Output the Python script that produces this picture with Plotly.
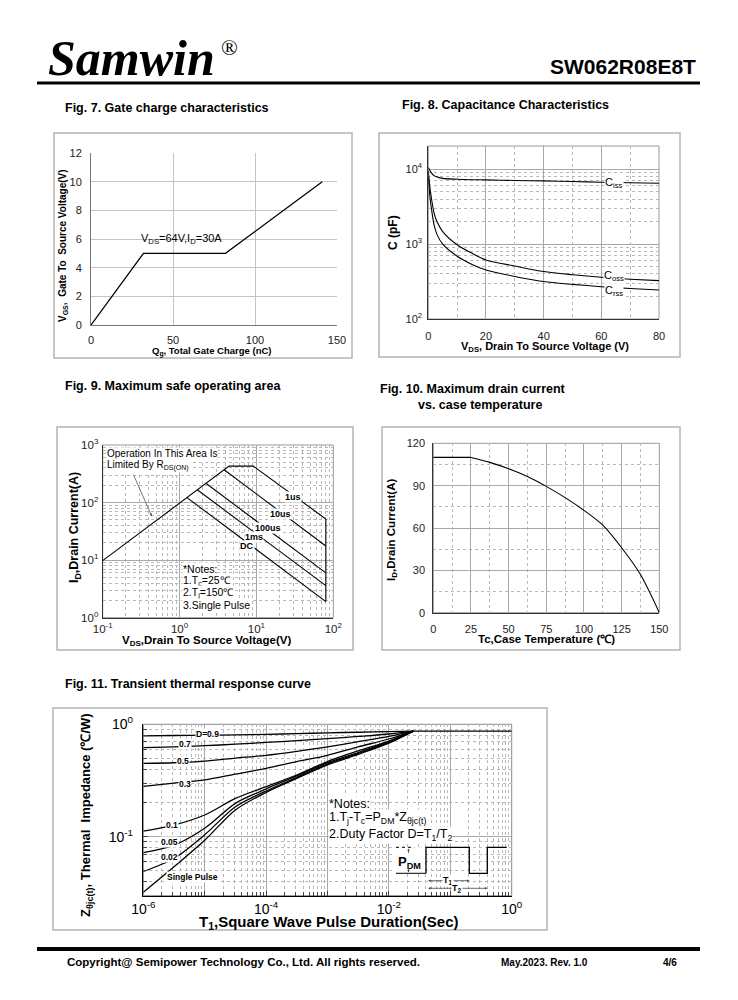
import plotly.graph_objects as go

W, H = 738, 1000
FONT = "Liberation Sans, Arial, sans-serif"


def px(x):
    return x / W


def py(y):
    return 1 - y / H


# ---------------- data ----------------
# Fig. 7 gate charge
gate_charge_nc = [0, 32, 82, 141]
gate_voltage_v = [0, 5, 5, 10]

# Fig. 8 capacitance
cap_vds_v = [0, 0.5, 1, 2, 3, 5, 10, 15, 20, 30, 40, 50, 60, 70, 80]
ciss_pf = [10500, 9700, 9000, 8200, 7900, 7550, 7350, 7250, 7200, 7080, 6980, 6850, 6700, 6600, 6500]
coss_pf = [9500, 6000, 4300, 2600, 2000, 1470, 980, 760, 615, 510, 430, 390, 361, 340, 325]
crss_pf = [8000, 4500, 3150, 1800, 1350, 1000, 690, 540, 452, 370, 316, 290, 270, 255, 244]

# Fig. 9 safe operating area
soa_env_v = [0.1, 4.4, 9.1, 80, 80]
soa_env_a = [9.8, 430, 430, 51.8, 1.9]
soa_10us_v = [3.8, 80]
soa_10us_a = [372, 17.6]
soa_100us_v = [2.2, 80]
soa_100us_a = [216, 6.0]
soa_1ms_v = [1.7, 80]
soa_1ms_a = [167, 3.6]
soa_dc_v = [1.25, 80]
soa_dc_a = [122, 1.9]

# Fig. 10 drain current vs case temperature
tc_flat_c = [0, 25]
id_flat_a = [110, 110]
tc_curve_c = [25, 37.5, 50, 62.5, 75, 87.5, 100, 112.5, 125, 137.5, 150]
id_curve_a = [110, 106.5, 102, 96.5, 89.5, 81.5, 72.5, 62, 46, 27, 0]

# Fig. 11 transient thermal impedance
zth_t_s = [1e-6, 3.16e-6, 1e-5, 3.16e-5, 1e-4, 3.16e-4, 1e-3, 3.16e-3, 1e-2, 2.5e-2]
zth_d09 = [0.79, 0.795, 0.80, 0.805, 0.815, 0.825, 0.84, 0.85, 0.86, 0.87]
zth_d07 = [0.62, 0.63, 0.645, 0.665, 0.69, 0.715, 0.745, 0.78, 0.82, 0.87]
zth_d05 = [0.45, 0.455, 0.47, 0.50, 0.53, 0.575, 0.63, 0.70, 0.78, 0.87]
zth_d03 = [0.28, 0.30, 0.32, 0.36, 0.405, 0.465, 0.53, 0.63, 0.74, 0.87]
zth_d01 = [0.112, 0.127, 0.156, 0.219, 0.279, 0.354, 0.466, 0.58, 0.71, 0.87]
zth_d005 = [0.072, 0.084, 0.119, 0.198, 0.266, 0.347, 0.456, 0.56, 0.70, 0.87]
zth_d002 = [0.049, 0.064, 0.104, 0.185, 0.255, 0.337, 0.444, 0.55, 0.69, 0.87]
zth_single = [0.032, 0.054, 0.093, 0.173, 0.248, 0.330, 0.435, 0.54, 0.68, 0.87]
zth_flat_t = [2.5e-2, 1]
zth_flat_z = [0.87, 0.87]

# ---------------- figure ----------------
fig = go.Figure()
LW = 1.3


def line(x, y, xa, ya, shape="linear", width=LW):
    fig.add_trace(go.Scatter(x=x, y=y, xaxis=xa, yaxis=ya, mode="lines",
                             line=dict(color="black", width=width, shape=shape, smoothing=0.8),
                             showlegend=False, hoverinfo="skip"))


# Fig 7
line(gate_charge_nc, gate_voltage_v, "x", "y")
# Fig 8
for c in (ciss_pf, coss_pf, crss_pf):
    line(cap_vds_v, c, "x2", "y2", shape="spline", width=1.1)
# Fig 9
line(soa_env_v, soa_env_a, "x3", "y3", width=1.1)
for v, a in ((soa_10us_v, soa_10us_a), (soa_100us_v, soa_100us_a),
             (soa_1ms_v, soa_1ms_a), (soa_dc_v, soa_dc_a)):
    line(v, a, "x3", "y3", width=1.1)
# Fig 10
line(tc_flat_c, id_flat_a, "x4", "y4", width=1.1)
line(tc_curve_c, id_curve_a, "x4", "y4", shape="spline", width=1.1)
# Fig 11
for z in (zth_d09, zth_d07, zth_d05, zth_d03, zth_d01, zth_d005, zth_d002, zth_single):
    line(zth_t_s, z, "x5", "y5", shape="spline", width=1.3)
line(zth_flat_t, zth_flat_z, "x5", "y5", width=1.3)

tickf = dict(family=FONT, size=11, color="#222")
MAJ = "#a8a8a8"
MIN = "#b8b8b8"


def lin_axis(dom, rng, dtick, anchor, minor=None, standoff=4, linecolor="#555", grid="#c4c4c4"):
    d = dict(domain=dom, range=rng, dtick=dtick, tick0=0, anchor=anchor, showgrid=True,
             gridcolor=grid, gridwidth=1, zeroline=False, showline=True, linecolor=linecolor,
             linewidth=1, ticks="", tickfont=tickf, ticklabelstandoff=standoff, fixedrange=True,
             automargin=False)
    if minor is not None:
        d["minor"] = dict(dtick=minor, showgrid=True, griddash="dot", gridcolor=MIN, gridwidth=1)
    return d


def sup(e):
    return "10<sup>%s</sup>" % e


def log_axis(dom, rng, tickvals, ticktext, minorvals, anchor, standoff=2, font=None, linecolor="#333", lw=1):
    return dict(domain=dom, type="log", range=rng, tickvals=tickvals, ticktext=ticktext,
                anchor=anchor, showgrid=True, gridcolor=MAJ, gridwidth=1, zeroline=False,
                showline=True, linecolor=linecolor, linewidth=lw, ticks="",
                tickfont=font or tickf, ticklabelstandoff=standoff, fixedrange=True, automargin=False,
                minor=dict(tickvals=minorvals, showgrid=True, griddash="dot", gridcolor=MIN, gridwidth=1))


def minors(decades):
    return [m * 10 ** d for d in decades for m in range(2, 10)]


layout = dict(
    template="none",
    width=W, height=H, margin=dict(l=0, r=0, t=0, b=0, pad=0, autoexpand=False), paper_bgcolor="white",
    plot_bgcolor="rgba(0,0,0,0)", font=dict(family=FONT, color="black"), showlegend=False,
)
f12 = dict(family=FONT, size=11.5, color="#222")
layout["xaxis"] = lin_axis([px(91), px(337)], [0, 150], 50, "y", standoff=5, linecolor="#777")
layout["yaxis"] = lin_axis([py(325), py(153)], [0, 12], 2, "x", standoff=6, linecolor="#777")
layout["xaxis2"] = lin_axis([px(428.3), px(659)], [0, 80], 20, "y2", minor=10, standoff=7, linecolor="#333", grid=MAJ)
layout["yaxis2"] = log_axis([py(319), py(146)], [2, 4.31], [100, 1000, 10000], [sup(2), sup(3), sup(4)],
                            minors([2, 3]) + [20000], "x2", standoff=3)
layout["xaxis3"] = log_axis([px(102.7), px(333.3)], [-1, 2], [0.1, 1, 10, 100],
                            [sup(-1), sup(0), sup(1), sup(2)], minors([-1, 0, 1]), "y3", standoff=0, font=f12)
layout["yaxis3"] = log_axis([py(617.7), py(445)], [0, 3], [1, 10, 100, 1000],
                            [sup(0), sup(1), sup(2), sup(3)], minors([0, 1, 2]), "x3", standoff=1, font=f12)
layout["xaxis4"] = lin_axis([px(433.3), px(659.3)], [0, 150], 25, "y4", minor=12.5, standoff=6, linecolor="#333", grid=MAJ)
layout["yaxis4"] = lin_axis([py(612.7), py(443.3)], [0, 120], 30, "x4", minor=15, standoff=5, linecolor="#333", grid=MAJ)
bigf = dict(family=FONT, size=14, color="black")
layout["xaxis5"] = log_axis([px(143.3), px(511.7)], [-6, 0], [1e-6, 1e-5, 1e-4, 1e-3, 1e-2, 1e-1, 1],
                            [sup(-6), "", sup(-4), "", sup(-2), "", sup(0)], minors(range(-6, 0)), "y5",
                            standoff=0, font=bigf, linecolor="black", lw=1.5)
layout["yaxis5"] = log_axis([py(895.7), py(724.3)], [-1.525, 0], [0.1, 1], [sup(-1), sup(0)],
                            [0.04, 0.05, 0.06, 0.07, 0.08, 0.09] + minors([-1]), "x5",
                            standoff=6, font=bigf, linecolor="black", lw=1.5)
layout["xaxis5"]["ticks"] = "inside"
layout["xaxis5"]["ticklen"] = 5
layout["xaxis5"]["minor"].update(ticks="inside", ticklen=4)
layout["yaxis5"]["ticks"] = "inside"
layout["yaxis5"]["ticklen"] = 5
layout["yaxis5"]["minor"].update(ticks="inside", ticklen=4)

fig.update_layout(**layout)

shapes = []
# frames around each figure
for (x0, y0, x1, y1) in [(54, 133, 352, 358), (379, 133, 680, 357), (57, 427, 353, 650),
                         (382, 427, 680, 650), (53, 708, 547, 930)]:
    shapes.append(dict(type="rect", xref="paper", yref="paper", x0=px(x0), x1=px(x1), y0=py(y0), y1=py(y1),
                       line=dict(color="#b4b4b4", width=1.5)))
# plot-area outlines
for xr, yr, col in [("x2", "y2", "#999"), ("x3", "y3", "#999"), ("x4", "y4", "#999"), ("x5", "y5", "#888")]:
    shapes.append(dict(type="rect", xref=xr + " domain", yref=yr + " domain", x0=0, x1=1, y0=0, y1=1,
                       line=dict(color=col, width=1), layer="below"))
# header and footer rules
shapes.append(dict(type="line", xref="paper", yref="paper", x0=px(37), x1=px(700), y0=py(83), y1=py(83),
                   line=dict(color="black", width=3)))
shapes.append(dict(type="line", xref="paper", yref="paper", x0=px(37), x1=px(700), y0=py(949), y1=py(949),
                   line=dict(color="black", width=4)))
# pulse diagram in Fig. 11
shapes.append(dict(type="rect", xref="paper", yref="paper", x0=px(395), x1=px(425), y0=py(847.3), y1=py(873.3),
                   fillcolor="white", line=dict(width=0)))
wave = [(426, 873.3), (426, 847.3), (469.3, 847.3), (469.3, 873.3), (487.3, 873.3), (487.3, 847.3), (506.7, 847.3)]
path = "M " + " L ".join("%f,%f" % (px(a), py(b)) for a, b in wave)
shapes.append(dict(type="path", xref="paper", yref="paper", path=path, line=dict(color="black", width=1.3)))
shapes.append(dict(type="line", xref="paper", yref="paper", x0=px(396), x1=px(426), y0=py(873.3), y1=py(873.3),
                   line=dict(color="black", width=1)))
shapes.append(dict(type="line", xref="paper", yref="paper", x0=px(396), x1=px(412), y0=py(847.3), y1=py(847.3),
                   line=dict(color="black", width=1, dash="dot")))
fig.update_layout(shapes=shapes)

anns = []


def ann(x, y, text, size=11, xanchor="left", yanchor="middle", color="black", angle=0, bg=None,
        xref="paper", yref="paper"):
    if xref == "paper":
        x = px(x)
    if yref == "paper":
        y = py(y)
    d = dict(x=x, y=y, xref=xref, yref=yref, text=text, showarrow=False, xanchor=xanchor,
             yanchor=yanchor, textangle=angle, font=dict(family=FONT, size=size, color=color), borderpad=0)
    if bg:
        d["bgcolor"] = bg
    anns.append(d)


# header
anns.append(dict(x=px(46), y=py(58), xref="paper", yref="paper", text="<b><i>Samwin</i></b>", showarrow=False,
                 xanchor="left", yanchor="middle",
                 font=dict(family="Liberation Serif, Times New Roman, serif", size=50, color="black")))
anns.append(dict(x=px(219), y=py(47), xref="paper", yref="paper", text="®", showarrow=False,
                 xanchor="left", yanchor="middle",
                 font=dict(family="Liberation Serif, Times New Roman, serif", size=22, color="black")))
ann(697, 66, "<b>SW062R08E8T</b>", 21, xanchor="right")

# figure titles
ann(64, 108, "<b>Fig. 7. Gate charge characteristics</b>", 12.5)
ann(401, 105, "<b>Fig. 8. Capacitance Characteristics</b>", 12.5)
ann(64, 386, "<b>Fig. 9. Maximum safe operating area</b>", 12.5)
ann(379, 389, "<b>Fig. 10. Maximum drain current</b>", 12.5)
ann(417, 405, "<b>vs. case temperature</b>", 12.5)
ann(64, 684, "<b>Fig. 11. Transient thermal response curve</b>", 12.5)

# Fig 7 texts
ann(211, 351, "<b>Q<sub>g</sub>, Total Gate Charge (nC)</b>", 9.5, xanchor="center")
ann(63, 246, "<b>V<sub>GS</sub>,  Gate To  Source Voltage(V)</b>", 10, xanchor="center", angle=-90)
ann(55.3, 5.45, "V<sub>DS</sub>=64V,I<sub>D</sub>=30A", 11, xanchor="center", yanchor="bottom",
    xref="x", yref="y")

# Fig 8 texts
ann(545, 347, "<b>V<sub>DS</sub>, Drain To Source Voltage (V)</b>", 11, xanchor="center")
ann(393, 232, "<b>C (pF)</b>", 12, xanchor="center", angle=-90)
ann(64.3, 3.82, "C<sub>iss</sub>", 11, xanchor="center", bg="white", xref="x2", yref="y2")
ann(64.3, 2.577, "C<sub>oss</sub>", 11, xanchor="center", bg="white", xref="x2", yref="y2")
ann(64.3, 2.368, "C<sub>rss</sub>", 11, xanchor="center", bg="white", xref="x2", yref="y2")

# Fig 9 texts
ann(206, 641, "<b>V<sub>DS</sub>,Drain To Source Voltage(V)</b>", 11.5, xanchor="center")
ann(75, 528, "<b>I<sub>D</sub>,Drain Current(A)</b>", 12.5, xanchor="center", angle=-90)
ann(106, 453, "Operation In This Area Is", 10, bg="white")
ann(106, 466, "Limited By R<sub>DS(ON)</sub>", 10, bg="white")
anns.append(dict(x=-0.36, y=1.76, xref="x3", yref="y3", text="", showarrow=True, ax=-19, ay=-43,
                 arrowhead=2, arrowsize=0.7, arrowwidth=0.8, arrowcolor="#555"))
ann(1.475, 2.097, "<b>1us</b>", 9, xanchor="center", bg="white", xref="x3", yref="y3")
ann(1.307, 1.802, "<b>10us</b>", 9, xanchor="center", bg="white", xref="x3", yref="y3")
ann(1.150, 1.559, "<b>100us</b>", 9, xanchor="center", bg="white", xref="x3", yref="y3")
ann(0.967, 1.394, "<b>1ms</b>", 9, xanchor="center", bg="white", xref="x3", yref="y3")
ann(0.873, 1.238, "<b>DC</b>", 9, xanchor="center", bg="white", xref="x3", yref="y3")
ann(182, 569, "*Notes:", 10.5, bg="white")
ann(182, 581, "1.T<sub>c</sub>=25℃", 10.5, bg="white")
ann(182, 593, "2.T<sub>j</sub>=150℃", 10.5, bg="white")
ann(182, 605, "3.Single Pulse", 10.5, bg="white")

# Fig 10 texts
ann(546, 639, "<b>Tc,Case Temperature (℃)</b>", 11.5, xanchor="center")
ann(392, 530, "<b>I<sub>D</sub>,Drain Current(A)</b>", 11.5, xanchor="center", angle=-90)

# Fig 11 texts
ann(329, 922.5, "<b>T<sub>1</sub>,Square Wave Pulse Duration(Sec)</b>", 15, xanchor="center")
ann(86, 815, "<b>Z<sub>θjc(t)</sub>, Thermal  Impedance (℃/W)</b>", 13, xanchor="center", angle=-90)
for lx, ly, t in [(-4.951, -0.086, "D=0.9"), (-5.324, -0.175, "0.7"), (-5.357, -0.327, "0.5"),
                  (-5.324, -0.531, "0.3"), (-5.535, -0.896, "0.1"), (-5.568, -1.047, "0.05"),
                  (-5.568, -1.181, "0.02"), (-5.195, -1.359, "Single Pulse")]:
    ann(lx, ly, "<b>" + t + "</b>", 8.5, xanchor="center", bg="white", xref="x5", yref="y5")
ann(328, 804, "*Notes:", 12.5, bg="white")
ann(328, 818, "1.T<sub>j</sub>-T<sub>c</sub>=P<sub>DM</sub>*Z<sub>θjc(t)</sub>", 12.5, bg="white")
ann(328, 835, "2.Duty Factor D=T<sub>1</sub>/T<sub>2</sub>", 12.5, bg="white")
ann(397, 862, "<b>P<sub>DM</sub></b>", 13)
anns.append(dict(x=px(408.5), y=py(848.5), xref="paper", yref="paper", text="", showarrow=True,
                 ax=0, ay=6, arrowhead=2, arrowsize=0.6, arrowwidth=0.8))
anns.append(dict(x=px(408.5), y=py(872.5), xref="paper", yref="paper", text="", showarrow=True,
                 ax=0, ay=-6, arrowhead=2, arrowsize=0.6, arrowwidth=0.8))
anns.append(dict(x=px(469.3), y=py(880.7), xref="paper", yref="paper", text="", showarrow=True,
                 ax=-42.6, ay=0, arrowhead=2, arrowside="end+start", arrowsize=0.6, arrowwidth=0.8))
anns.append(dict(x=px(487.3), y=py(888.3), xref="paper", yref="paper", text="", showarrow=True,
                 ax=-60.6, ay=0, arrowhead=2, arrowside="end+start", arrowsize=0.6, arrowwidth=0.8))
ann(448, 880.7, "<b>T<sub>1</sub></b>", 9, xanchor="center", bg="white")
ann(457, 888.3, "<b>T<sub>2</sub></b>", 9, xanchor="center", bg="white")

# footer
ann(66, 962, "<b>Copyright@ Semipower Technology Co., Ltd. All rights reserved.</b>", 11.5)
ann(500, 962, "<b>May.2023. Rev. 1.0</b>", 10)
ann(662, 962, "<b>4/6</b>", 10)

fig.update_layout(annotations=anns)
fig.write_html("out.html", config={"displayModeBar": False, "staticPlot": True},
               post_script="document.body.style.margin='0px';document.body.style.padding='0px';"
                           "document.body.style.overflow='hidden';")
